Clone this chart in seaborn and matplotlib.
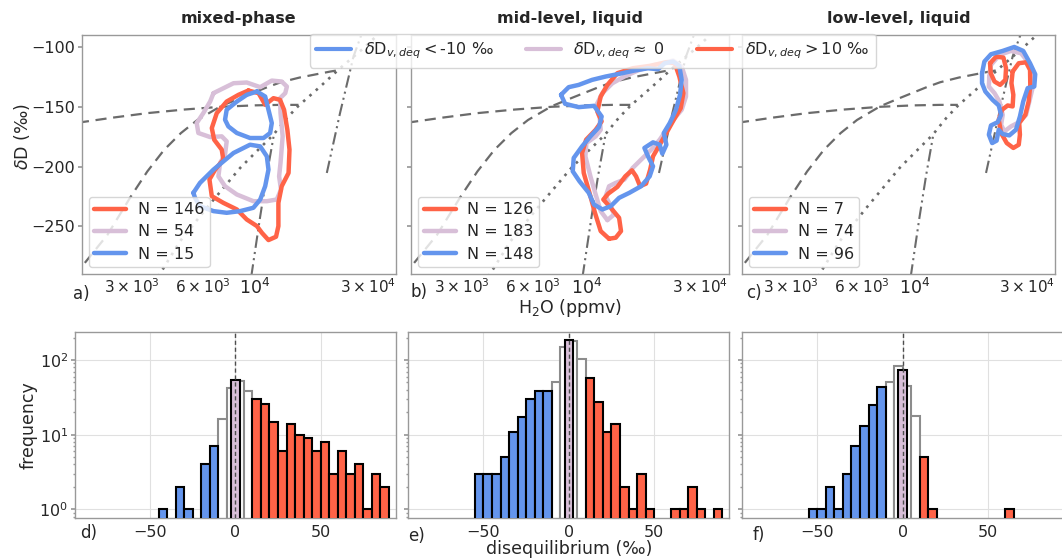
import numpy as np
import pandas as pd
import matplotlib
matplotlib.use("Agg")
import matplotlib.pyplot as plt
import seaborn as sns
from matplotlib.lines import Line2D
from matplotlib.ticker import FixedLocator, FuncFormatter, NullFormatter, LogLocator

sns.set_theme(style="white")
plt.rcParams['font.family'] = ['DejaVu Sans']
plt.rcParams['mathtext.fontset'] = 'dejavusans'

BLUE, RED, PURPLE = '#6495ED', '#FF6347', '#D8BFD8'

# ---------------- text ----------------
panel_titles = ['mixed-phase', 'mid-level, liquid', 'low-level, liquid']
top_letters = ['a)', 'b)', 'c)']
bot_letters = ['d)', 'e)', 'f)']
n_red = [146, 126, 7]
n_purple = [54, 183, 74]
n_blue = [15, 148, 96]
legend_labels = [r'$\delta$D$_{v,deq}<$-10 ‰', r'$\delta$D$_{v,deq}\approx$ 0', r'$\delta$D$_{v,deq}>$10 ‰']

# ---------------- reference curves (log10 H2O ppmv, dD permil) ----------------
A_lq = [3.25, 3.40, 3.544, 3.70, 3.855, 4.0, 4.109, 4.184]
A_dd = [-163.3, -159.0, -155.3, -152.3, -150.0, -148.8, -148.4, -148.4]
B_lq = [3.232, 3.375, 3.474, 3.544, 3.615, 3.686, 3.756, 3.855, 3.940, 4.053, 4.109, 4.19, 4.32, 4.35]
B_dd = [-292, -257, -225, -204, -186, -172, -161, -149.5, -142.5, -133.5, -129.5, -125.5, -120.5, -119.5]
C_lq = [3.59, 3.683, 3.796, 3.937, 4.007, 4.078, 4.135, 4.184, 4.276, 4.360, 4.459, 4.53]
C_dd = [-292, -262.2, -234.4, -201.1, -187.2, -173.3, -159.4, -149.2, -133.1, -117.8, -101.1, -88]
D_lq = [3.984, 4.021, 4.05, 4.08]
D_dd = [-292, -242.8, -206.7, -173.3]
E_lq = [4.304, 4.36, 4.417, 4.45]
E_dd = [-205.3, -155.3, -108, -90]

# ---------------- density contours (log10 H2O ppmv, dD permil) ----------------
# panel a
a_red_lq = [3.972, 4.015, 4.043, 4.078, 4.106, 4.123, 4.137, 4.146, 4.142, 4.113, 4.099, 4.099, 4.089, 4.057,
            4.029, 4.008, 3.965, 3.923, 3.866, 3.817, 3.807, 3.831, 3.866, 3.859, 3.827, 3.817, 3.838, 3.880, 3.930]
a_red_dd = [-136.4, -138.6, -148.3, -142.8, -144.2, -152.5, -169.2, -185.8, -205.3, -216.4, -230.3, -249.7, -258.6, -261.4,
            -255.3, -249.7, -244.2, -235.8, -230.3, -224.7, -210.8, -202.5, -194.2, -185.8, -177.5, -167.8, -155.3, -145.6, -140.0]
a_pur_lq = [3.824, 3.909, 3.965, 4.022, 4.071, 4.113, 4.135, 4.128, 4.106, 4.108, 4.117, 4.108, 4.102, 4.110, 4.092,
            4.050, 3.993, 3.923, 3.873, 3.845, 3.852, 3.873, 3.880, 3.859, 3.810, 3.760, 3.753, 3.781, 3.810]
a_pur_dd = [-138.6, -130.3, -129.7, -133.6, -128.1, -128.9, -133.1, -138.6, -142.8, -155.3, -174.7, -196.9, -208.1, -219.2, -227.5,
            -228.9, -228.9, -223.3, -216.4, -208.1, -196.9, -190.0, -178.9, -174.7, -175.3, -171.9, -163.6, -155.3, -145.6]
a_blue1_lq = [4.008, 4.043, 4.057, 4.071, 4.064, 4.036, 3.979, 3.923, 3.887, 3.873, 3.880, 3.923, 3.965]
a_blue1_dd = [-137.2, -141.4, -152.5, -163.6, -171.9, -176.1, -176.1, -171.9, -166.4, -160.8, -152.5, -145.6, -140.0]
a_blue2_lq = [3.739, 3.767, 3.824, 3.909, 3.979, 4.022, 4.050, 4.057, 4.043, 4.022, 3.993, 3.937, 3.880, 3.824, 3.767, 3.746]
a_blue2_dd = [-221.9, -213.6, -202.5, -188.6, -181.7, -183.1, -191.4, -202.5, -216.4, -227.5, -234.4, -237.2, -238.6, -237.2, -233.1, -226.1]

# panel b
b_red_lq = [4.095, 4.060, 4.036, 4.013, 3.989, 3.982, 3.999, 4.039, 4.064, 4.046, 4.060, 4.088, 4.130, 4.194, 4.265, 4.335,
            4.370, 4.389, 4.406, 4.395, 4.366, 4.335, 4.307, 4.279, 4.267, 4.250, 4.225, 4.208, 4.191, 4.163, 4.130, 4.092,
            4.071, 4.102, 4.137, 4.145, 4.123]
b_red_dd = [-260.3, -253.9, -238.6, -221.9, -205.3, -188.6, -177.5, -169.2, -162.2, -153.9, -141.4, -131.7, -121.9, -117.8, -115.8, -112.8,
            -113.6, -124.7, -138.6, -151.1, -160.8, -171.9, -181.7, -191.4, -202.5, -214.2, -216.4, -208.1, -203.1, -208.1, -216.9, -222.5,
            -227.5, -234.4, -242.8, -253.9, -259.4]
b_pur_lq = [4.088, 4.060, 4.039, 4.017, 3.996, 4.000, 4.039, 4.060, 4.056, 4.039, 4.067, 4.109, 4.159, 4.215, 4.286, 4.363,
            4.399, 4.417, 4.417, 4.399, 4.370, 4.341, 4.307, 4.272, 4.229, 4.194, 4.159, 4.123, 4.095, 4.081, 4.102, 4.116]
b_pur_dd = [-244.7, -237.2, -223.3, -208.1, -191.4, -180.3, -174.7, -169.2, -159.4, -149.7, -138.6, -130.3, -124.7, -119.7, -115.0, -111.4,
            -116.4, -127.5, -141.4, -152.5, -159.4, -167.8, -177.5, -185.8, -194.2, -201.1, -210.8, -213.6, -216.4, -224.7, -233.1, -240.0]
b_blue_lq = [3.894, 3.911, 3.968, 4.032, 4.064, 4.053, 4.017, 3.982, 3.947, 3.943, 3.971, 4.010, 4.032, 4.067, 4.102, 4.137,
             4.180, 4.229, 4.265, 4.279, 4.258, 4.243, 4.279, 4.307, 4.318, 4.335, 4.324, 4.349, 4.375, 4.392, 4.399, 4.389,
             4.363, 4.328, 4.300, 4.258, 4.201, 4.137, 4.081, 4.024, 3.968, 3.926]
b_blue_dd = [-140.0, -147.5, -150.3, -149.2, -158.1, -166.9, -174.7, -183.1, -192.8, -203.9, -212.2, -221.9, -231.7, -235.8, -233.1, -226.1,
             -221.9, -216.4, -208.1, -199.7, -191.4, -184.4, -179.7, -181.7, -189.2, -181.7, -171.9, -163.6, -152.5, -140.0, -127.5, -115.8,
             -112.2, -113.6, -118.6, -117.8, -119.7, -122.5, -124.7, -127.5, -131.7, -133.6]

# panel c
c_red1_lq = [4.321, 4.347, 4.378, 4.389, 4.386, 4.364, 4.340, 4.324]
c_red1_dd = [-113.6, -108.1, -108.9, -117.8, -127.5, -131.7, -128.9, -121.9]
c_red2_lq = [4.417, 4.443, 4.474, 4.491, 4.492, 4.485, 4.471, 4.445, 4.448, 4.443, 4.420, 4.392, 4.368, 4.358, 4.372, 4.396,
             4.417, 4.420, 4.412]
c_red2_dd = [-120.6, -113.6, -112.8, -119.2, -131.7, -145.6, -156.7, -163.6, -173.3, -181.7, -184.4, -180.3, -171.9, -160.8, -152.5, -148.9,
             -149.7, -140.0, -130.3]
c_pur_lq = [4.318, 4.325, 4.361, 4.410, 4.453, 4.481, 4.499, 4.505, 4.488, 4.474, 4.445, 4.410, 4.382, 4.368, 4.375, 4.361, 4.340, 4.316]
c_pur_dd = [-124.7, -115.0, -106.7, -103.3, -105.3, -112.2, -120.6, -131.7, -145.6, -156.7, -162.8, -166.4, -170.6, -165.0, -156.7, -145.6, -138.6, -133.1]
c_blue_lq = [4.287, 4.297, 4.325, 4.375, 4.424, 4.462, 4.491, 4.513, 4.509, 4.481, 4.462, 4.448, 4.431, 4.403, 4.375, 4.358,
             4.349, 4.330, 4.316, 4.325, 4.354, 4.368, 4.358, 4.332, 4.301, 4.287]
c_blue_dd = [-121.9, -112.2, -106.1, -103.3, -100.0, -103.3, -113.6, -122.8, -133.1, -134.4, -145.6, -158.1, -169.2, -173.9, -172.8, -169.2,
             -178.3, -180.3, -173.3, -165.6, -162.8, -156.7, -148.9, -144.2, -137.2, -130.3]

# ---------------- histograms (counts per 5 permil bin) ----------------
blue_centers = [-52.5, -47.5, -42.5, -37.5, -32.5, -27.5, -22.5, -17.5, -12.5]
blue_d = [0, 0, 1, 0, 2, 1, 0, 4, 7]
blue_e = [3, 3, 3, 5, 11, 17, 30, 38, 38]
blue_f = [1, 1, 2, 1, 3, 7, 13, 25, 43]
red_centers = [12.5, 17.5, 22.5, 27.5, 32.5, 37.5, 42.5, 47.5, 52.5, 57.5, 62.5, 67.5, 72.5, 77.5, 82.5, 87.5]
red_d = [30, 26, 15, 6, 14, 10, 9, 6, 8, 3, 6, 3, 4, 1, 3, 2]
red_e = [57, 27, 11, 14, 2, 1, 3, 1, 0, 0, 1, 1, 2, 1, 0, 1]
red_f = [5, 1, 0, 0, 0, 0, 0, 0, 0, 0, 1, 0, 0, 0, 0, 0]
white_centers = [-7.5, -2.5, 2.5, 7.5]
white_d = [16, 42, 53, 38]
white_e = [51, 151, 181, 103]
white_f = [51, 84, 45, 18]
purple_center = [0.0]

W, H = 1062, 558
fig = plt.figure(figsize=(W / 100, H / 100), dpi=100)


def px_axes(l, r, t, b):
    return fig.add_axes([l / W, 1 - b / H, (r - l) / W, (b - t) / H])


top_box = [(81.7, 396), (411, 729), (741.7, 1055)]
bot_box = [(75, 395.7), (408.3, 729.3), (742.3, 1063)]
contours = [
    ([(a_red_lq, a_red_dd)], [(a_pur_lq, a_pur_dd)], [(a_blue1_lq, a_blue1_dd), (a_blue2_lq, a_blue2_dd)]),
    ([(b_red_lq, b_red_dd)], [(b_pur_lq, b_pur_dd)], [(b_blue_lq, b_blue_dd)]),
    ([(c_red1_lq, c_red1_dd), (c_red2_lq, c_red2_dd)], [(c_pur_lq, c_pur_dd)], [(c_blue_lq, c_blue_dd)]),
]
GRAY = '0.42'
SPINE = '0.6'
minor_label_vals = {3000: r'$3\times10^{3}$', 6000: r'$6\times10^{3}$', 30000: r'$3\times10^{4}$'}


def closed(lq, dd):
    x = 10 ** np.array(list(lq) + [lq[0]])
    y = np.array(list(dd) + [dd[0]])
    return x, y


for i, (l, r) in enumerate(top_box):
    ax = px_axes(l, r, 35, 274.3)
    ax.set_xscale('log')
    # reference lines
    ax.plot(10 ** np.array(A_lq), A_dd, color=GRAY, ls=(0, (5, 3)), lw=1.6)
    ax.plot(10 ** np.array(B_lq), B_dd, color=GRAY, ls=(0, (5, 3)), lw=1.6)
    ax.plot(10 ** np.array(C_lq), C_dd, color=GRAY, ls=(0, (1, 2.2)), lw=1.9)
    ax.plot(10 ** np.array(D_lq), D_dd, color=GRAY, ls=(0, (6, 2, 1, 2, 1, 2)), lw=1.5)
    ax.plot(10 ** np.array(E_lq), E_dd, color=GRAY, ls=(0, (6, 2, 1, 2, 1, 2)), lw=1.5)
    reds, purs, blues = contours[i]
    for lq, dd in purs:
        x, y = closed(lq, dd)
        hp, = ax.plot(x, y, color=PURPLE, lw=3.2, solid_joinstyle='round')
    for lq, dd in reds:
        x, y = closed(lq, dd)
        hr, = ax.plot(x, y, color=RED, lw=3.2, solid_joinstyle='round')
    for lq, dd in blues:
        x, y = closed(lq, dd)
        hb, = ax.plot(x, y, color=BLUE, lw=3.2, solid_joinstyle='round')
    ax.legend([hr, hp, hb], [f'N = {n_red[i]}', f'N = {n_purple[i]}', f'N = {n_blue[i]}'],
              loc='lower left', fontsize=11.5, handlelength=2.0, handletextpad=0.7, borderpad=0.35,
              borderaxespad=0.45, framealpha=0.8, labelspacing=0.45)
    ax.set_xlim(1845, 39540)
    ax.set_ylim(-290, -90)
    ax.set_yticks([-250, -200, -150, -100])
    ax.xaxis.set_major_locator(FixedLocator([1e4]))
    ax.xaxis.set_major_formatter(FuncFormatter(lambda v, p: r'$10^{4}$'))
    ax.xaxis.set_minor_locator(FixedLocator([2e3, 3e3, 4e3, 5e3, 6e3, 7e3, 8e3, 9e3, 2e4, 3e4]))
    ax.xaxis.set_minor_formatter(FuncFormatter(lambda v, p: minor_label_vals.get(int(round(v)), '')))
    ax.tick_params(axis='x', which='major', labelsize=12.5, length=2, color=SPINE, pad=0.5)
    ax.tick_params(axis='x', which='minor', labelsize=11, length=1.5, color=SPINE, pad=1.0)
    ax.tick_params(axis='y', labelsize=11.5, length=3, color=SPINE, left=True, pad=2)
    if i > 0:
        ax.tick_params(axis='y', labelleft=False)
    else:
        ax.set_ylabel(r'$\delta$D (‰)', fontsize=12.5)
        ax.yaxis.set_label_coords(-0.158, 0.574)
    if i == 1:
        ax.set_xlabel(r'H$_2$O (ppmv)', fontsize=12.5, labelpad=-0.5)
    for s in ax.spines.values():
        s.set_color(SPINE)
        s.set_linewidth(1.0)
    ax.set_title(panel_titles[i], fontsize=11.5, fontweight='bold', pad=9)

fig.legend([Line2D([], [], color=c, lw=3) for c in (BLUE, PURPLE, RED)], legend_labels,
           loc='upper center', bbox_to_anchor=(0.558, 0.953), ncol=3, fontsize=11.5,
           handlelength=2.2, columnspacing=2.0, framealpha=0.8)

blues = [blue_d, blue_e, blue_f]
reds = [red_d, red_e, red_f]
whites = [white_d, white_e, white_f]


def hist(ax, centers, counts, face, edge, lw, z):
    centers = np.array(centers, dtype=float)
    edges = [float(c - 2.5) for c in centers] + [float(centers[-1] + 2.5)]
    df = pd.DataFrame({'value': centers, 'count': np.array(counts, dtype=float)})
    n0 = len(ax.patches)
    sns.histplot(data=df, x='value', weights='count', bins=edges, ax=ax, color=face, edgecolor=edge,
                 linewidth=lw, alpha=1, zorder=z)
    for p in ax.patches[n0:]:
        if p.get_height() <= 0:
            p.set_visible(False)


for i, (l, r) in enumerate(bot_box):
    ax = px_axes(l, r, 332.3, 518.3)
    ax.set_yscale('log')
    hist(ax, white_centers, whites[i], 'white', '0.55', 1.5, 2)
    hist(ax, blue_centers, blues[i], BLUE, 'black', 1.5, 3)
    hist(ax, red_centers, reds[i], RED, 'black', 1.5, 3)
    hist(ax, purple_center, [n_purple[i]], PURPLE, 'black', 1.5, 4)
    ax.axvline(0, color='0.3', ls=(0, (3, 2)), lw=1.0, zorder=6)
    ax.set_xlim(-94, 94)
    ax.set_ylim(0.76, 235)
    ax.set_xticks([-50, 0, 50])
    ax.yaxis.set_major_locator(LogLocator(base=10, numticks=10))
    ax.yaxis.set_minor_locator(LogLocator(base=10, subs=np.arange(2, 10), numticks=10))
    ax.yaxis.set_minor_formatter(NullFormatter())
    ax.grid(True, which='major', color='0.88', lw=0.8)
    ax.set_axisbelow(True)
    ax.tick_params(axis='both', which='major', labelsize=11.5, length=3, color=SPINE, left=True, pad=2)
    ax.tick_params(axis='y', which='minor', length=1.5, color=SPINE, left=True)
    ax.set_ylabel('')
    ax.set_xlabel('')
    if i > 0:
        ax.tick_params(axis='y', labelleft=False)
    else:
        ax.set_ylabel('frequency', fontsize=12.5)
        ax.yaxis.set_label_coords(-0.118, 0.5)
    if i == 1:
        ax.set_xlabel('disequilibrium (‰)', fontsize=12.5, labelpad=0)
    for s in ax.spines.values():
        s.set_color(SPINE)
        s.set_linewidth(1.0)

for lab, (x, y) in zip(top_letters + bot_letters,
                       [(73, 294), (411, 292), (746, 293), (80, 533), (408, 536), (753, 535)]):
    fig.text(x / W, 1 - y / H, lab, fontsize=12, ha='left', va='center')

fig.savefig('out.png', dpi=100)
